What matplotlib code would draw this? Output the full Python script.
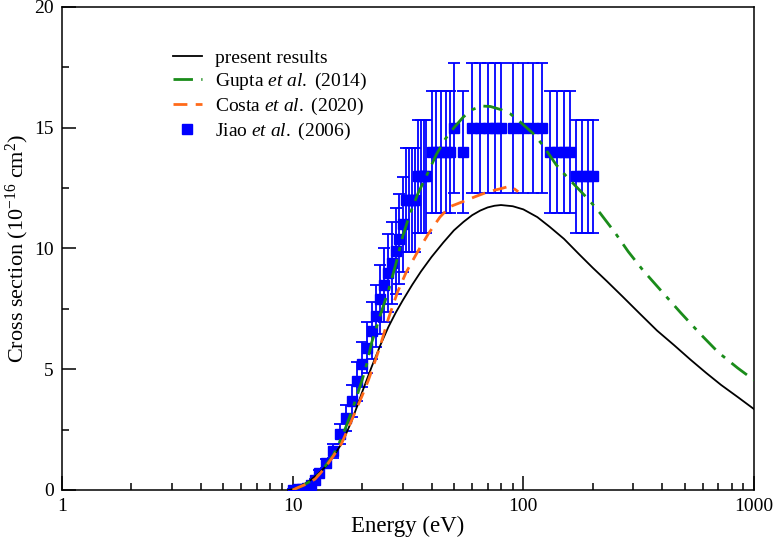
import numpy as np
import matplotlib
matplotlib.use('Agg')
import matplotlib.pyplot as plt
from matplotlib.ticker import FixedLocator, FixedFormatter, MultipleLocator, LogLocator, NullFormatter

plt.rcParams['font.family'] = ['Liberation Serif', 'DejaVu Serif']
plt.rcParams['mathtext.fontset'] = 'custom'
plt.rcParams['mathtext.rm'] = 'Liberation Serif'
plt.rcParams['mathtext.it'] = 'Liberation Serif:italic'

# present results (black solid)
present_e = [9.6, 10, 10.5, 11, 11.5, 12, 13, 14, 15, 16, 17, 18, 19, 20, 22, 24, 26, 28, 30, 33,
             36, 40, 45, 50, 55, 60, 65, 70, 75, 80, 90, 100, 115, 130, 150, 175, 200, 230, 270,
             320, 380, 450, 530, 620, 720, 850, 1000]
present_v = [0.0, 0.03, 0.1, 0.2, 0.3, 0.42, 0.7, 1.0, 1.38, 1.8, 2.3, 2.85, 3.45, 4.05, 5.1, 6.0,
             6.75, 7.35, 7.85, 8.5, 9.05, 9.65, 10.25, 10.75, 11.1, 11.38, 11.57, 11.7, 11.77, 11.8,
             11.75, 11.62, 11.3, 10.9, 10.4, 9.75, 9.2, 8.65, 8.0, 7.3, 6.6, 6.0, 5.4, 4.85, 4.35,
             3.85, 3.35]

# Gupta et al. (2014)
gupta_e = [10, 11, 12, 13, 14, 15, 16, 17, 18, 19, 20, 21, 22, 24, 26, 28, 30, 32, 35, 38, 42, 46,
           50, 55, 60, 66, 72, 80, 88, 98, 110, 121, 139, 155, 176, 195, 215, 250, 285, 330, 400,
           480, 580, 700, 850, 1000]
gupta_v = [0.0, 0.17, 0.38, 0.65, 1.05, 1.45, 2.0, 2.6, 3.25, 3.9, 4.55, 5.25, 6.1, 7.25, 8.25,
           9.35, 10.5, 11.35, 12.3, 13.0, 13.9, 14.55, 15.0, 15.45, 15.75, 15.9, 15.88, 15.75,
           15.57, 15.2, 14.77, 14.3, 13.46, 12.95, 12.4, 11.95, 11.47, 10.65, 9.87, 9.1, 8.2,
           7.35, 6.5, 5.7, 5.05, 4.55]

# Costa et al. (2020)
costa_e = [10, 10.6, 11.5, 12.5, 13.2, 14, 15, 16.3, 17.5, 18.5, 20, 21.3, 22.5, 23.9, 26, 28.5,
           31, 34.5, 38.7, 43.5, 48, 55, 62, 70.5, 80, 88, 95]
costa_v = [0.0, 0.11, 0.25, 0.45, 0.7, 1.0, 1.4, 1.93, 2.6, 3.15, 3.9, 4.55, 5.2, 5.93, 7.1, 8.2,
           9.0, 9.8, 10.6, 11.3, 11.73, 11.95, 12.15, 12.35, 12.48, 12.59, 12.35]

# Jiao et al. (2006)
jiao_e = [10, 10.5, 11, 11.5, 12, 12.5, 13, 14, 15, 16, 17, 18, 19, 20, 21, 22, 23, 24, 25, 26, 27,
          28, 29, 30, 31, 32, 33, 34, 35, 36, 37, 38, 40, 42, 44, 46, 48, 50, 55, 60, 65, 70, 75, 80,
          90, 100, 110, 120, 130, 140, 150, 160, 170, 180, 190, 200]
jiao_v = [0.02, 0.03, 0.05, 0.1, 0.2, 0.4, 0.7, 1.1, 1.6, 2.3, 3.0, 3.7, 4.5, 5.2, 5.9, 6.6, 7.2,
          7.9, 8.5, 9.0, 9.4, 9.9, 10.4, 11.0, 12, 12, 12, 12, 13, 13, 13, 13, 14, 14, 14, 14, 14,
          15, 14, 15, 15, 15, 15, 15, 15, 15, 15, 15, 14, 14, 14, 14, 13, 13, 13, 13]
jiao_relerr = 0.18

xticks = [1, 10, 100, 1000]
xticklabels = ['1', '10', '100', '1000']

fig = plt.figure(figsize=(7.73, 5.39), dpi=100)
ax = fig.add_axes([62/773, 1-490/539, 692/773, 483/539])

ax.errorbar(jiao_e, jiao_v, yerr=np.array(jiao_v)*jiao_relerr, fmt='none', ecolor='#0000ff',
            elinewidth=1.3, capsize=4, capthick=1.3, zorder=2)
ax.plot(present_e, present_v, color='black', lw=1.3, label='present results', zorder=4)
ax.plot(gupta_e, gupta_v, color='#1a8c1a', lw=2.0, dashes=(7, 3, 1.5, 3),
        label='Gupta $\\it{et\\ al.}$ (2014)', zorder=4)
ax.plot(costa_e, costa_v, color='#ff6a1a', lw=2.0, dashes=(5, 3),
        label='Costa $\\it{et\\ al.}$ (2020)', zorder=4)
ax.plot(jiao_e, jiao_v, ls='none', marker='s', ms=7.2, color='#0000ff', mec='#0000ff',
        label='Jiao $\\it{et\\ al.}$ (2006)', zorder=3)

ax.set_xscale('log')
ax.set_xlim(1, 1000)
ax.set_ylim(0, 20)
ax.xaxis.set_major_locator(FixedLocator(xticks))
ax.xaxis.set_major_formatter(FixedFormatter(xticklabels))
ax.xaxis.set_minor_locator(LogLocator(base=10, subs=np.arange(2, 10)))
ax.xaxis.set_minor_formatter(NullFormatter())
ax.yaxis.set_major_locator(MultipleLocator(5))
ax.yaxis.set_minor_locator(MultipleLocator(2.5))

ax.tick_params(which='both', direction='in', labelsize=14, width=1.1)
ax.tick_params(which='major', length=10, pad=6)
ax.tick_params(which='minor', length=5)
for s in ax.spines.values():
    s.set_linewidth(1.1)

ax.set_xlabel('Energy (eV)', fontsize=16.5, labelpad=0)
ax.set_ylabel('Cross section (10$^{-16}$ cm$^{2}$)', fontsize=16, labelpad=2)

ax.legend(loc='upper left', bbox_to_anchor=(0.16, 0.912), frameon=False, fontsize=14,
          handlelength=1.5, handletextpad=0.7, labelspacing=0.2, borderpad=0, borderaxespad=0)

fig.savefig('out.png', dpi=100)
